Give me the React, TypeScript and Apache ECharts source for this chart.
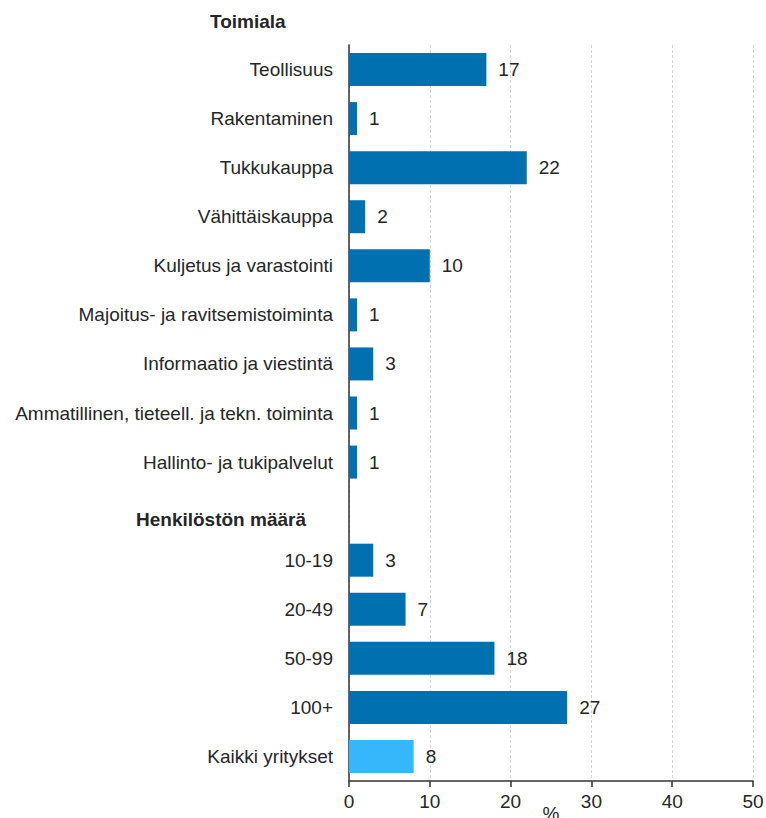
import React, { useEffect, useRef } from "react";
import * as echarts from "echarts";

const groupTitle = "Toimiala";
const sizeHeader = "Henkilöstön määrä";
const categories = [
  "Teollisuus",
  "Rakentaminen",
  "Tukkukauppa",
  "Vähittäiskauppa",
  "Kuljetus ja varastointi",
  "Majoitus- ja ravitsemistoiminta",
  "Informaatio ja viestintä",
  "Ammatillinen, tieteell. ja tekn. toiminta",
  "Hallinto- ja tukipalvelut",
  sizeHeader,
  "10-19",
  "20-49",
  "50-99",
  "100+",
  "Kaikki yritykset",
];
const values: (number | null)[] = [17, 1, 22, 2, 10, 1, 3, 1, 1, null, 3, 7, 18, 27, 8];
const totalCategory = "Kaikki yritykset";
const xTicks = [0, 10, 20, 30, 40, 50];

const FONT = "Arial, 'Liberation Sans', sans-serif";
const TEXT = "#262626";
const DARK_BLUE = "#0070b0";
const LIGHT_BLUE = "#36b7fc";
const FS = 19;

export default function App() {
  const ref = useRef<HTMLDivElement>(null);
  useEffect(() => {
    if (!ref.current) return;
    const chart = echarts.init(ref.current, undefined, { renderer: "svg" });
    chart.setOption({
      animation: false,
      textStyle: { fontFamily: FONT },
      title: {
        text: groupTitle,
        left: 210,
        top: 12,
        padding: 0,
        textStyle: { fontFamily: FONT, fontSize: FS, fontWeight: "bold", color: TEXT },
      },
      grid: {
        left: 349,
        right: 13,
        top: 45,
        bottom: 37,
        containLabel: false,
        outerBoundsMode: "none",
      },
      xAxis: {
        type: "value",
        min: xTicks[0],
        max: xTicks[xTicks.length - 1],
        interval: 10,
        name: "%",
        nameLocation: "middle",
        nameGap: 23,
        nameMoveOverlap: false,
        nameTextStyle: { fontFamily: FONT, fontSize: FS, color: TEXT },
        axisLine: { show: true, lineStyle: { color: "#333", width: 1.5 } },
        axisTick: { show: true, length: 6, lineStyle: { color: "#333", width: 1.5 } },
        axisLabel: { fontFamily: FONT, fontSize: FS, color: TEXT, margin: 11 },
        splitLine: {
          show: true,
          lineStyle: { color: "#d4d4d4", type: [3, 2], width: 1 },
        },
      },
      yAxis: {
        type: "category",
        inverse: true,
        data: categories,
        axisLine: { show: true, lineStyle: { color: "#333", width: 1.5 } },
        axisTick: { show: false },
        splitLine: { show: false },
        axisLabel: {
          fontFamily: FONT,
          fontSize: FS,
          color: TEXT,
          margin: 16,
          formatter: (v: string) => (v === sizeHeader ? `{h|${v}}` : v),
          rich: {
            h: {
              fontFamily: FONT,
              fontSize: FS,
              fontWeight: "bold",
              color: TEXT,
              padding: [16, 27, 0, 0],
            },
          },
        },
      },
      series: [
        {
          type: "bar",
          barWidth: 33,
          data: values.map((v, i) => ({
            value: v,
            itemStyle: { color: categories[i] === totalCategory ? LIGHT_BLUE : DARK_BLUE },
          })),
          label: {
            show: true,
            position: "right",
            distance: 12,
            fontFamily: FONT,
            fontSize: FS,
            color: TEXT,
            formatter: (p: any) => (p.value == null ? "" : String(p.value)),
          },
        },
      ],
    });
    return () => chart.dispose();
  }, []);
  return (
    <div
      ref={ref}
      style={{ position: "fixed", left: 0, top: 0, width: 766, height: 818, background: "#fff" }}
    />
  );
}
